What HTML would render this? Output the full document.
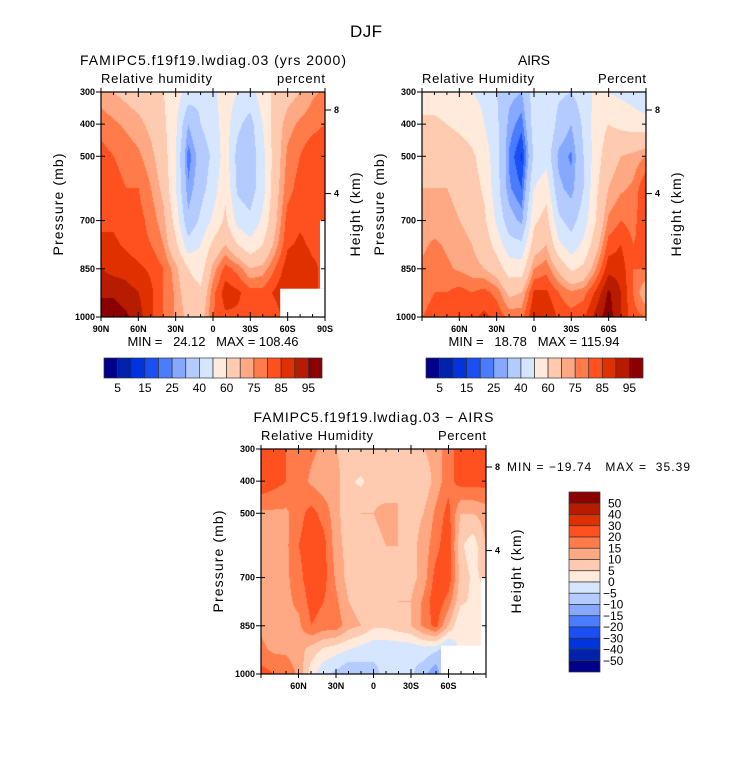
<!DOCTYPE html>
<html><head><meta charset="utf-8">
<style>
body{margin:0;background:#fff;}
#wrap{position:relative;width:733px;height:769px;overflow:hidden;font-family:"Liberation Sans",sans-serif;}
canvas{position:absolute;}
svg{position:absolute;left:0;top:0;}
text{white-space:pre;}
</style></head><body>
<div id="wrap">
<canvas id="c1" width="224" height="225" style="left:101px;top:92px"></canvas>
<canvas id="c2" width="224" height="225" style="left:422px;top:92px"></canvas>
<canvas id="c3" width="225" height="225" style="left:261px;top:449px"></canvas>
<svg id="s" width="733" height="769"></svg>
</div>
<script>
const lats=[90,80,70,60,50,40,30,20,10,0,-10,-20,-30,-40,-50,-60,-70,-80,-90];
const pres=[300,400,500,600,700,775,850,925,1000];
const rhLevels=[5,10,15,20,25,30,40,50,60,70,75,80,85,90,95];
const rhLabels=["5","15","25","40","60","75","85","95"];
const diffLevels=[-50,-40,-30,-20,-15,-10,-5,0,5,10,15,20,30,40,50];
const diffLabels=["50","40","30","20","15","10","5","0","\u22125","\u221210","\u221215","\u221220","\u221230","\u221240","\u221250"];
const colors=["#00008a","#0022aa","#0035dd","#1a4ff5","#4a7cff","#86a8ff","#b4cbff","#d6e6ff","#ffeadb","#ffcbb0","#ffa884","#ff7b4a","#ff5020","#e03000","#b81c00","#8b0000"];
const modelRH=[
[72,70,68,66,63,60,55,46,42,48,55,50,46,55,62,67,70,74,76],
[78,76,74,72,68,62,52,30,40,45,55,42,36,50,65,73,76,78,80],
[82,80,78,76,72,65,50,22,34,42,55,36,34,46,65,76,80,84,85],
[82,82,80,80,75,68,50,26,36,45,58,38,35,46,66,78,82,85,84],
[84,84,82,82,78,72,56,32,42,52,62,46,42,52,68,82,84,84,84],
[86,86,84,82,80,75,62,44,50,62,70,60,53,60,72,84,86,84,84],
[90,88,88,86,84,80,72,60,55,72,82,78,70,72,80,88,90,86,84],
[94,94,92,90,86,80,74,65,62,78,88,86,82,82,86,90,88,86,84],
[98,98,96,92,86,80,74,68,66,80,84,84,84,84,82,88,88,86,84]];
const airsRH=[
[55,55,54,52,50,48,40,32,30,45,48,42,40,45,52,50,48,45,40],
[62,62,60,58,55,50,42,28,22,45,50,36,30,42,55,60,58,56,55],
[68,66,66,65,62,55,44,24,14,42,46,28,24,40,55,66,70,72,75],
[70,70,70,68,65,58,44,26,20,50,56,32,27,40,58,70,74,76,85],
[72,72,72,70,68,62,48,34,28,58,64,42,36,45,60,76,80,78,85],
[74,76,74,72,70,66,56,44,42,65,70,52,44,52,66,82,85,80,82],
[76,78,76,74,72,70,65,55,55,75,78,68,58,62,75,88,88,80,80],
[78,80,80,82,80,82,78,68,70,86,86,80,76,78,86,96,90,80,70],
[80,82,82,84,84,86,84,78,78,90,90,84,82,84,92,98,90,82,80]];
const diffRH=[
[22,22,20,18,16,14,10,8,10,6,8,8,10,10,12,18,22,24,24],
[24,22,20,18,14,12,12,6,4,8,6,10,8,6,12,18,22,22,22],
[14,14,14,18,22,18,12,6,10,10,12,10,8,10,16,22,10,10,12],
[12,12,14,20,24,22,12,8,6,8,10,10,8,12,18,24,6,2,10],
[12,12,14,18,24,22,14,8,5,6,8,8,8,12,22,24,8,4,6],
[12,12,14,16,22,20,16,10,8,8,8,10,10,16,24,18,6,4,4],
[14,12,14,14,20,18,18,12,10,6,6,8,10,16,22,10,0,2,2],
[16,14,14,12,8,4,2,0,-2,-4,-4,-4,-4,-2,-4,-8,2,2,2],
[22,20,18,14,2,-4,-6,-10,-8,-6,-4,-4,-4,-8,-14,0,0,0,0]];
const latTicks=[90,60,30,0,-30,-60,-90];
const latTickLabels=["90N","60N","30N","0","30S","60S","90S"];
const presTicks=[300,400,500,700,850,1000];
const heightTicks=[{p:356,l:"8"},{p:616,l:"4"}];

function interp(xs,v){
  for(let i=0;i<xs.length-1;i++){const a=xs[i],b=xs[i+1];if((v-a)*(v-b)<=0)return i+(v-a)/(b-a);}
  return 0;
}
function hex(c){return [parseInt(c.substr(1,2),16),parseInt(c.substr(3,2),16),parseInt(c.substr(5,2),16)];}
function drawField(id,data,levels){
  const cv=document.getElementById(id),ctx=cv.getContext('2d');
  const W=cv.width,H=cv.height,img=ctx.createImageData(W,H);
  const rgb=colors.map(hex);
  for(let y=0;y<H;y++){
    const p=300+700*y/(H-1);const fy=interp(pres,p);
    const i0=Math.min(Math.floor(fy),pres.length-2),ty=fy-i0;
    for(let x=0;x<W;x++){
      const lat=90-180*x/(W-1);const fx=interp(lats,lat);
      const j0=Math.min(Math.floor(fx),lats.length-2),tx=fx-j0;
      const v=(data[i0][j0]*(1-tx)+data[i0][j0+1]*tx)*(1-ty)+(data[i0+1][j0]*(1-tx)+data[i0+1][j0+1]*tx)*ty;
      let k=0;while(k<levels.length&&v>=levels[k])k++;
      const c=rgb[k],o=(y*W+x)*4;img.data[o]=c[0];img.data[o+1]=c[1];img.data[o+2]=c[2];img.data[o+3]=255;
    }
  }
  ctx.putImageData(img,0,0);
}
drawField('c1',modelRH,rhLevels);
drawField('c2',airsRH,rhLevels);
drawField('c3',diffRH,diffLevels);

const S=document.getElementById('s'),NS='http://www.w3.org/2000/svg';
function el(t,a,txt){const e=document.createElementNS(NS,t);for(const k in a)e.setAttribute(k,a[k]);if(txt!==undefined)e.textContent=txt;S.appendChild(e);return e;}
function txt(x,y,s,size,anchor,name,extra,len){const a=Object.assign({x:x,y:y,'font-size':size,'text-anchor':anchor||'start','font-family':'Liberation Sans, sans-serif'},extra||{});
if(len){a.textLength=len;a.lengthAdjust='spacing';}
const e=el('text',a,s);

return e;}

txt(366,37,"DJF",17,'middle','figure-title',null,32);

function panel(px,py,w,h,title,titleLen,left,leftLen,right,minmax,xlabels,pre){
  const xs=lat=>px+(90-lat)/180*w, ys=p=>py+(p-300)/700*h;
  txt(px+w/2,py-27,title,14,'middle',pre+'-title',null,titleLen);
  txt(px,py-9,left,13,'start',pre+'-variable-label',null,leftLen);
  txt(px+w,py-9,right,13,'end',pre+'-units-label',null,48);
  if(pre!=='airs'){
    const m1=el('rect',{x:xs(-54),y:ys(912),width:xs(-90)-xs(-54),height:ys(1000)-ys(912),fill:'#fff'});
    
    
    const m2=el('rect',{x:xs(-86),y:ys(700),width:xs(-90)-xs(-86),height:ys(912)-ys(700),fill:'#fff'});
    
    
  }
  const fr=el('rect',{x:px,y:py,width:w,height:h,fill:'none',stroke:'#000','stroke-width':1.2});
  
  
  for(let lat=90;lat>=-90;lat-=10){
    const major=lat%30===0,L=major?5:3;
    el('line',{x1:xs(lat),x2:xs(lat),y1:py+h,y2:py+h-L,stroke:'#000'});
    el('line',{x1:xs(lat),x2:xs(lat),y1:py,y2:py+L,stroke:'#000'});
    if(major){el('line',{x1:xs(lat),x2:xs(lat),y1:py+h,y2:py+h+4,stroke:'#000'});el('line',{x1:xs(lat),x2:xs(lat),y1:py,y2:py-4,stroke:'#000'});}
  }
  latTicks.forEach((lat,i)=>{if(xlabels.includes(latTickLabels[i]))txt(xs(lat),py+h+15,latTickLabels[i],9,'middle',pre+'-x-tick-label',{'font-weight':'bold'});});
  presTicks.forEach(p=>{el('line',{x1:px-5,x2:px+4,y1:ys(p),y2:ys(p),stroke:'#000'});el('line',{x1:px+w,x2:px+w-4,y1:ys(p),y2:ys(p),stroke:'#000'});
    txt(px-6,ys(p)+3,String(p),9,'end',pre+'-y-tick-label',{'font-weight':'bold'});});
  heightTicks.forEach(o=>{el('line',{x1:px+w,x2:px+w+6,y1:ys(o.p),y2:ys(o.p),stroke:'#000'});txt(px+w+9,ys(o.p)+3,o.l,9,'start',pre+'-height-tick-label',{'font-weight':'bold'});});
  txt(0,0,"Pressure (mb)",14,'middle',pre+'-y-axis-title',{transform:`translate(${px-38},${py+h/2}) rotate(-90)`},102);
  txt(0,0,"Height (km)",14,'middle',pre+'-right-axis-title',{transform:`translate(${px+w+35},${py+h/2+10}) rotate(-90)`},84);
  if(minmax)txt(px+w/2,py+h+29,minmax,13,'middle',pre+'-min-max',null,171);
}
panel(101,92,224,225,"FAMIPC5.f19f19.lwdiag.03 (yrs 2000)",266,"Relative humidity",111,"percent","MIN =   24.12   MAX = 108.46",latTickLabels,'model');
panel(422,92,224,225,"AIRS",32,"Relative Humidity",112,"Percent","MIN =   18.78   MAX = 115.94",["60N","30N","0","30S","60S"],'airs');
panel(261,449,225,225,"FAMIPC5.f19f19.lwdiag.03 \u2212 AIRS",240,"Relative Humidity",112,"Percent",null,["60N","30N","0","30S","60S"],'diff');
txt(507,471,"MIN = \u221219.74   MAX =  35.39",12,'start','diff-min-max',null,183);

function hbar(x0,x1,y0,h,pre){
  const bw=(x1-x0)/colors.length;
  colors.forEach((c,i)=>{const r=el('rect',{x:x0+i*bw,y:y0,width:bw,height:h,fill:c,stroke:'#333','stroke-width':0.7});
    
    });
  rhLabels.forEach((l,i)=>txt(x0+bw*(2*i+1),y0+h+14,l,12,'middle',pre+'-colorbar-label'));
}
hbar(104,322,358,20,'model');
hbar(426,643,358,20,'airs');
const vx=569,vw=31,vy0=492,vy1=672,bh=(vy1-vy0)/colors.length;
colors.slice().reverse().forEach((c,i)=>{const r=el('rect',{x:vx,y:vy0+i*bh,width:vw,height:bh,fill:c,stroke:'#333','stroke-width':0.7});
  
  });
diffLabels.forEach((l,i)=>txt(l.startsWith('\u2212')?603:608,vy0+(i+1)*bh+4,l,12,'start','diff-colorbar-label'));
</script>
</body></html>
